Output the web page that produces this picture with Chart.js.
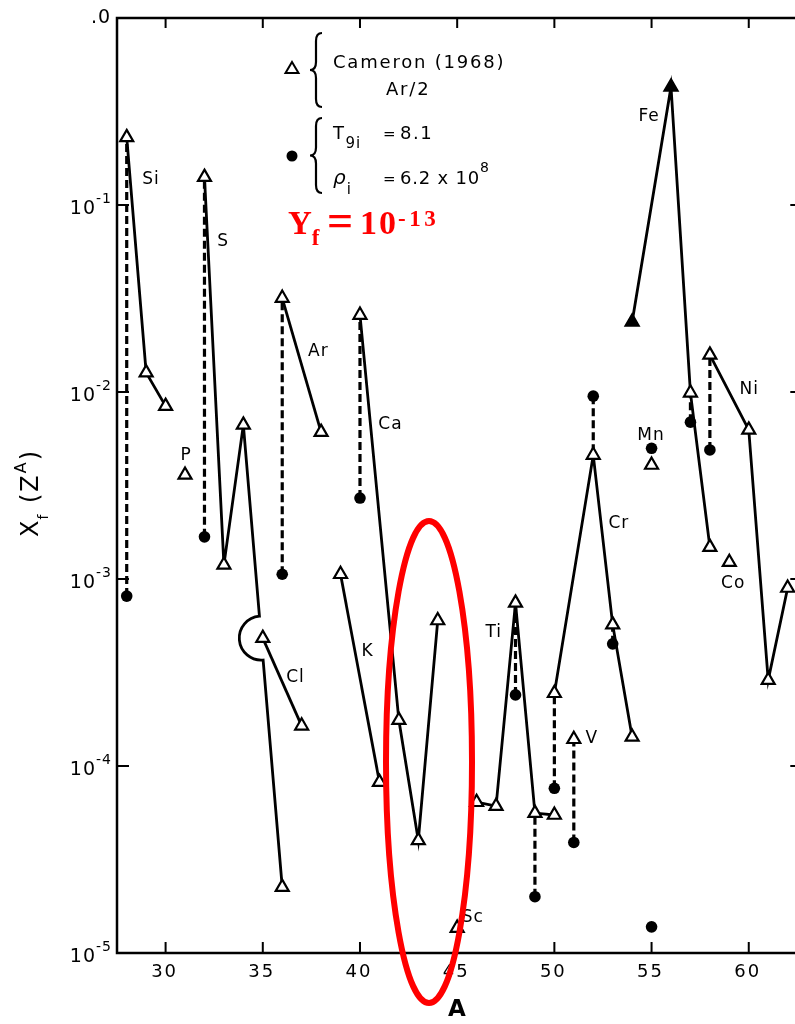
<!DOCTYPE html>
<html>
<head>
<meta charset="utf-8">
<script src="https://cdn.jsdelivr.net/npm/chart.js@4/dist/chart.umd.min.js"></script>
<style>
  html, body { margin: 0; padding: 0; background: #fff; overflow: hidden; }
  #wrap { width: 795px; height: 1024px; overflow: hidden; position: relative; }
  canvas { display: block; }
</style>
</head>
<body>
<div id="wrap">
<canvas id="myChart" width="809" height="1024" style="width:809px;height:1024px"></canvas>
</div>
<script>
// axis ticks
const xTicks = [30, 35, 40, 45, 50, 55, 60];
const yTicks = [1e-5, 1e-4, 1e-3, 1e-2, 1e-1, 1];
const yTickExp = ["-5", "-4", "-3", "-2", "-1"];

// Cameron (1968) abundances, open triangles joined per element
const siA = [28, 29, 30],        siX = [0.23, 0.0127, 0.0084];
const pA  = [31],                pX  = [0.0036];
const sA  = [32, 33, 34, 36],    sX  = [0.141, 0.00119, 0.00667, 2.25e-5];
const clA = [35, 37],            clX = [4.83e-4, 1.64e-4];
const arA = [36, 38],            arX = [0.0318, 0.0061];
const kA  = [39, 41],            kX  = [1.06e-3, 8.2e-5];
const caA = [40, 42, 43, 44],    caX = [0.0258, 1.76e-4, 4.0e-5, 6.0e-4];
const scA = [45],                scX = [1.36e-5];
const tiA = [46, 47, 48, 49, 50], tiX = [6.4e-5, 6.1e-5, 7.45e-4, 5.6e-5, 5.47e-5];
const vA  = [51],                vX  = [1.39e-4];
const crA = [50, 52, 53, 54],    crX = [2.45e-4, 4.6e-3, 5.7e-4, 1.43e-4];
const mnA = [55],                mnX = [4.07e-3];
const feA = [54, 56, 57, 58],    feX = [0.0237, 0.428, 9.9e-3, 1.48e-3];
const coA = [59],                coX = [1.23e-3];
const niA = [58, 60, 61, 62],    niX = [0.0158, 6.27e-3, 2.88e-4, 8.95e-4];

// computed values (T9i = 8.1, rho_i = 6.2e8), filled dots
const calcA = [28, 32, 36, 40, 48, 49, 50, 51, 52, 53, 55, 55, 57, 58];
const calcX = [8.1e-4, 1.68e-3, 1.06e-3, 2.71e-3, 2.4e-4, 2.0e-5, 7.6e-5, 3.9e-5, 9.5e-3, 4.5e-4, 5.0e-3, 1.38e-5, 6.9e-3, 4.9e-3];
// Cameron value each dot is joined to by a dashed line (null = none)
const linkX = [0.23, 0.141, 0.0318, 0.0258, 7.45e-4, 5.6e-5, 2.45e-4, 1.39e-4, 4.6e-3, 5.7e-4, null, null, 9.9e-3, 0.0158];

// element names and where they sit (A, X)
const elemNames  = ["Si", "P", "S", "Cl", "Ar", "K", "Ca", "Sc", "Ti", "V", "Cr", "Mn", "Fe", "Co", "Ni"];
const elemLabelA = [29.25, 31.06, 32.96, 36.68, 37.86, 40.39, 41.57, 45.8, 46.88, 51.93, 53.32, 54.97, 54.87, 59.2, 60.03];
const elemLabelX = [0.136, 4.55e-3, 0.064, 2.96e-4, 0.0164, 4.07e-4, 6.7e-3, 1.54e-5, 5.2e-4, 1.41e-4, 1.99e-3, 5.82e-3, 0.296, 9.5e-4, 0.01026];

const pts = (a, v) => a.map((x, i) => ({ x: x, y: v[i] }));

function chain(a, v, extra) {
  return Object.assign({
    data: pts(a, v),
    showLine: true,
    borderColor: "#000",
    borderWidth: 2.8,
    pointStyle: "triangle",
    pointRadius: 7.5,
    pointBorderWidth: 2.2,
    pointBorderColor: "#000",
    pointBackgroundColor: "#fff",
    order: 1
  }, extra || {});
}

const datasets = [];
datasets.push({
  data: pts(calcA, calcX),
  showLine: false,
  pointStyle: "circle",
  pointRadius: 5.8,
  pointBorderWidth: 0,
  pointBackgroundColor: "#000",
  order: 0
});
datasets.push(chain(siA, siX));
datasets.push(chain(pA, pX));
datasets.push(chain(sA, sX, {
  // the 34 -> 36 leg is drawn by the bridge plugin (hop over Cl)
  segment: { borderColor: c => c.p0DataIndex === 2 ? "rgba(0,0,0,0)" : undefined }
}));
datasets.push(chain(clA, clX));
datasets.push(chain(arA, arX));
datasets.push(chain(kA, kX));
datasets.push(chain(caA, caX));
datasets.push(chain(scA, scX));
datasets.push(chain(tiA, tiX));
datasets.push(chain(vA, vX));
datasets.push(chain(crA, crX));
datasets.push(chain(mnA, mnX));
datasets.push(chain(feA, feX, { pointBackgroundColor: ["#000", "#000", "#fff", "#fff"] }));
datasets.push(chain(coA, coX));
datasets.push(chain(niA, niX));

for (let i = 0; i < calcA.length; i++) {
  if (linkX[i] == null) continue;
  datasets.push({
    data: [{ x: calcA[i], y: calcX[i] }, { x: calcA[i], y: linkX[i] }],
    showLine: true,
    borderColor: "#000",
    borderWidth: 3.2,
    borderDash: [8, 4],
    pointRadius: 0,
    order: 2
  });
}

function txt(ctx, s, x, y, font, spacing) {
  ctx.font = font;
  ctx.letterSpacing = (spacing || 0) + "px";
  ctx.fillText(s, x, y);
  const w = ctx.measureText(s).width;
  return x + w;
}

function brace(ctx, x, y0, y1, w) {
  const ym = (y0 + y1) / 2, r = 8;
  ctx.beginPath();
  ctx.moveTo(x + w, y0);
  ctx.quadraticCurveTo(x, y0, x, y0 + r);
  ctx.lineTo(x, ym - r);
  ctx.quadraticCurveTo(x, ym, x - w, ym);
  ctx.quadraticCurveTo(x, ym, x, ym + r);
  ctx.lineTo(x, y1 - r);
  ctx.quadraticCurveTo(x, y1, x + w, y1);
  ctx.stroke();
}

// S34 -> S36 line with the little hop around the Cl35 marker
const bridgePlugin = {
  id: "bridge",
  beforeDatasetsDraw(chart) {
    const { ctx, scales: { x, y } } = chart;
    const p0 = { x: x.getPixelForValue(sA[2]), y: y.getPixelForValue(sX[2]) };
    const p1 = { x: x.getPixelForValue(sA[3]), y: y.getPixelForValue(sX[3]) };
    const cy = y.getPixelForValue(clX[0]);
    const t = (cy - p0.y) / (p1.y - p0.y);
    const cx = p0.x + t * (p1.x - p0.x);
    const len = Math.hypot(p1.x - p0.x, p1.y - p0.y);
    const ux = (p1.x - p0.x) / len, uy = (p1.y - p0.y) / len;
    const r = 22, ang = Math.atan2(uy, ux);
    ctx.save();
    ctx.strokeStyle = "#000";
    ctx.lineWidth = 2.8;
    ctx.beginPath();
    ctx.moveTo(p0.x, p0.y);
    ctx.lineTo(cx - ux * r, cy - uy * r);
    ctx.arc(cx, cy, r, ang + Math.PI, ang, true);
    ctx.lineTo(p1.x, p1.y);
    ctx.stroke();
    ctx.restore();
  }
};

const framePlugin = {
  id: "frame",
  afterDraw(chart) {
    const { ctx, chartArea: ca, scales: { x, y } } = chart;
    ctx.save();
    ctx.strokeStyle = "#000";
    ctx.fillStyle = "#000";
    ctx.lineWidth = 2.5;
    ctx.strokeRect(ca.left, ca.top, ca.right - ca.left, ca.bottom - ca.top);

    ctx.lineWidth = 2;
    ctx.beginPath();
    xTicks.forEach(v => {
      const px = x.getPixelForValue(v);
      ctx.moveTo(px, ca.bottom); ctx.lineTo(px, ca.bottom - 11);
      ctx.moveTo(px, ca.top); ctx.lineTo(px, ca.top + 10);
    });
    yTicks.forEach(v => {
      const py = y.getPixelForValue(v);
      ctx.moveTo(ca.left, py); ctx.lineTo(ca.left + 12, py);
      ctx.moveTo(ca.right, py); ctx.lineTo(ca.right - 9, py);
    });
    ctx.stroke();

    // x tick labels
    ctx.textAlign = "center";
    ctx.textBaseline = "middle";
    xTicks.forEach(v => {
      txt(ctx, String(v), x.getPixelForValue(v) - 1, 972, "18px 'DejaVu Sans'", 2);
    });

    // y tick labels 10^-n
    ctx.textAlign = "left";
    ctx.textBaseline = "alphabetic";
    yTickExp.forEach((e, i) => {
      const py = y.getPixelForValue(yTicks[i]);
      ctx.letterSpacing = "1px";
      ctx.font = "19px 'DejaVu Sans'";
      const w1 = ctx.measureText("10").width;
      ctx.font = "14px 'DejaVu Sans'";
      const w2 = ctx.measureText(e).width;
      const x0 = 112 - w1 - w2;
      txt(ctx, "10", x0, py + 9, "19px 'DejaVu Sans'", 1);
      txt(ctx, e, x0 + w1, py - 2, "14px 'DejaVu Sans'", 1);
    });
    txt(ctx, ".0", 91, 23, "19px 'DejaVu Sans'", 1);

    // axis titles
    ctx.textAlign = "center";
    ctx.textBaseline = "middle";
    txt(ctx, "A", 457, 1010, "600 23px 'DejaVu Sans'", 0);

    ctx.save();
    ctx.translate(38, 537);
    ctx.rotate(-Math.PI / 2);
    ctx.textAlign = "left";
    ctx.textBaseline = "alphabetic";
    let cx = 0;
    cx = txt(ctx, "X", cx, 0, "24px 'DejaVu Sans'", 2);
    cx = txt(ctx, "f", cx - 1, 10, "14px 'DejaVu Sans'", 2);
    cx = txt(ctx, " (Z", cx, 0, "24px 'DejaVu Sans'", 2);
    cx = txt(ctx, "A", cx, -12, "16px 'DejaVu Sans'", 2);
    txt(ctx, ")", cx, 0, "24px 'DejaVu Sans'", 2);
    ctx.restore();

    // element labels
    ctx.textAlign = "center";
    ctx.textBaseline = "middle";
    elemNames.forEach((n, i) => {
      txt(ctx, n, x.getPixelForValue(elemLabelA[i]), y.getPixelForValue(elemLabelX[i]), "17px 'DejaVu Sans'", 1);
    });

    // legend
    ctx.lineWidth = 2;
    ctx.beginPath();
    ctx.moveTo(292, 62); ctx.lineTo(298.5, 73); ctx.lineTo(285.5, 73); ctx.closePath();
    ctx.stroke();
    ctx.beginPath();
    ctx.arc(292, 156, 5.5, 0, Math.PI * 2);
    ctx.fill();
    ctx.lineWidth = 2.2;
    brace(ctx, 316, 33, 107, 6);
    brace(ctx, 316, 118, 193, 6);

    ctx.textAlign = "left";
    ctx.textBaseline = "alphabetic";
    txt(ctx, "Cameron (1968)", 333, 68, "18px 'DejaVu Sans'", 1.8);
    txt(ctx, "Ar/2", 386, 95, "18px 'DejaVu Sans'", 1.8);
    let tx = txt(ctx, "T", 333, 139, "18px 'DejaVu Sans'", 1.5);
    txt(ctx, "9i", tx, 148, "15px 'DejaVu Sans'", 1);
    txt(ctx, "=", 383, 139, "15px 'DejaVu Sans'", 0);
    txt(ctx, "8.1", 400, 139, "18px 'DejaVu Sans'", 1.5);
    tx = txt(ctx, "\u03C1", 333, 184, "italic 20px 'DejaVu Sans'", 1);
    txt(ctx, "i", tx, 194, "15px 'DejaVu Sans'", 1);
    txt(ctx, "=", 383, 184, "15px 'DejaVu Sans'", 0);
    tx = txt(ctx, "6.2 x 10", 400, 184, "18px 'DejaVu Sans'", 0.8);
    txt(ctx, "8", tx, 172, "14px 'DejaVu Sans'", 1);

    // red annotation
    ctx.fillStyle = "#ff0000";
    tx = txt(ctx, "Y", 288, 234, "bold 33px 'Liberation Serif'", 0);
    txt(ctx, "f", tx, 245, "bold 23px 'Liberation Serif'", 0);
    txt(ctx, "=", 327, 236, "bold 46px 'Liberation Serif'", 0);
    tx = txt(ctx, "10", 360, 234, "bold 34px 'Liberation Serif'", 2);
    txt(ctx, "-13", tx, 226, "bold 23px 'Liberation Serif'", 3.5);

    ctx.strokeStyle = "#ff0000";
    ctx.lineWidth = 6;
    ctx.beginPath();
    ctx.ellipse(429, 762, 43, 241, 0, 0, Math.PI * 2);
    ctx.stroke();
    ctx.restore();
  }
};

new Chart(document.getElementById("myChart").getContext("2d"), {
  type: "scatter",
  data: { datasets: datasets },
  options: {
    responsive: false,
    animation: false,
    devicePixelRatio: 1,
    layout: { padding: { top: 18, left: 0, right: 4, bottom: 0 } },
    plugins: { legend: { display: false }, tooltip: { enabled: false } },
    scales: {
      x: {
        type: "linear",
        min: 27.5,
        max: 62.6,
        grid: { display: false },
        border: { display: false },
        ticks: { display: false },
        afterBuildTicks: s => { s.ticks = xTicks.map(v => ({ value: v })); },
        afterFit: s => { s.height = 71; }
      },
      y: {
        type: "logarithmic",
        min: 1e-5,
        max: 1,
        grid: { display: false },
        border: { display: false },
        ticks: { display: false },
        afterBuildTicks: s => { s.ticks = yTicks.map(v => ({ value: v })); },
        afterFit: s => { s.width = 117; }
      }
    }
  },
  plugins: [bridgePlugin, framePlugin]
});
</script>
</body>
</html>
